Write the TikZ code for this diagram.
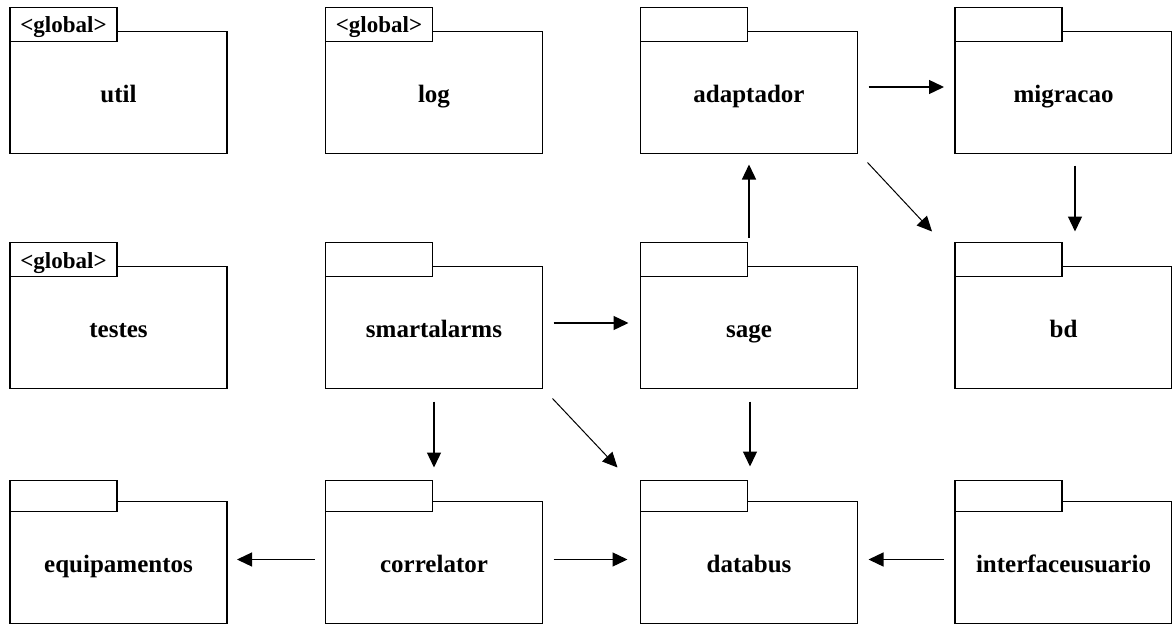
\documentclass[tikz,border=0pt]{standalone}
\usepackage{fontspec}
\setmainfont{Liberation Serif}
\usetikzlibrary{arrows.meta,calc}

\tikzset{
  pkgbody/.style={draw, line width=1.5pt, fill=white, minimum width=217pt,
    minimum height=122pt, inner sep=0pt, outer sep=0pt},
  pkgtab/.style={draw, line width=1.5pt, fill=white, minimum width=107pt,
    inner sep=0pt, outer sep=0pt},
  pkgstereo/.style={inner sep=0pt, anchor=base, font=\fontsize{23}{25}\selectfont\bfseries},
  pkgname/.style={inner sep=0pt, anchor=base, font=\fontsize{25}{27}\selectfont\bfseries},
  dep/.style={line width=1.3pt, -{Triangle[length=15pt,width=14pt]}},
  diag/.style={line width=1pt, -{Triangle[length=15pt,width=14pt]}},
}

% package folder: body, tab on top-left, name in the body
% #1 name, #2 centre x, #3 centre y, #4 tab rise above body, #5 label, #6 tab text
\newcommand\pkg[6]{%
  \node[pkgbody] (#1) at (#2,#3) {};
  \node[pkgtab, minimum height={#4+10}, anchor=north west] (#1-tab)
    at ($(#1.north west)+(0,-#4)$) {};
  \node[pkgstereo] (#1-stereo) at ($(#1-tab.south)+(0,-8.5)$) {#6};
  \node[pkgname] (#1-name) at ($(#1.center)+(0,9.5)$) {#5};
}

\begin{document}
\begin{tikzpicture}[x=1pt,y=-1pt]
\useasboundingbox[fill=white] (0,0) rectangle (1172,626);

% row 1
\pkg{util}{118.5}{92.5}{24}{util}{<global>}
\pkg{log}{434}{92.5}{24}{log}{<global>}
\pkg{adaptador}{749}{92.5}{24}{adaptador}{}
\pkg{migracao}{1063.5}{92.5}{24}{migracao}{}
% row 2
\pkg{testes}{118.5}{327.5}{24}{testes}{<global>}
\pkg{smartalarms}{434}{327.5}{24}{smartalarms}{}
\pkg{sage}{749}{327.5}{24}{sage}{}
\pkg{bd}{1063.5}{327.5}{24}{bd}{}
% row 3
\pkg{equipamentos}{118.5}{562.5}{21}{equipamentos}{}
\pkg{correlator}{434}{562.5}{21}{correlator}{}
\pkg{databus}{749}{562.5}{21}{databus}{}
\pkg{interfaceusuario}{1063.5}{562.5}{21}{interfaceusuario}{}

% dependencies
\draw[dep, shorten <=11pt, shorten >=11pt]
  ([yshift=5.5pt]adaptador.east) -- ([yshift=5.5pt]migracao.west);
\draw[dep, shorten <=12pt, shorten >=35pt]
  ([xshift=11.5pt]migracao.south) -- ([xshift=11.5pt]bd.north);
\draw[diag] ([shift={(10,9)}]adaptador.south east)
  -- ([shift={(-23,-11)}]bd-tab.north west);
\draw[dep, shorten <=29pt, shorten >=11pt] (sage.north) -- (adaptador.south);
\draw[dep, shorten <=11pt, shorten >=12pt]
  ([yshift=4.5pt]smartalarms.east) -- ([yshift=4.5pt]sage.west);
\draw[dep, shorten <=13pt, shorten >=34pt] (smartalarms.south) -- (correlator.north);
\draw[diag] ([shift={(10,10)}]smartalarms.south east)
  -- ([shift={(-23,-13)}]databus-tab.north west);
\draw[dep, shorten <=13pt, shorten >=35pt]
  ([xshift=1pt]sage.south) -- ([xshift=1pt]databus.north);
\draw[dep, shorten <=11pt, shorten >=10pt]
  ([yshift=3pt]correlator.west) -- ([yshift=3pt]equipamentos.east);
\draw[dep, shorten <=11pt, shorten >=13pt]
  ([yshift=3pt]correlator.east) -- ([yshift=3pt]databus.west);
\draw[dep, shorten <=11pt, shorten >=11pt]
  ([yshift=3pt]interfaceusuario.west) -- ([yshift=3pt]databus.east);
\end{tikzpicture}
\end{document}
